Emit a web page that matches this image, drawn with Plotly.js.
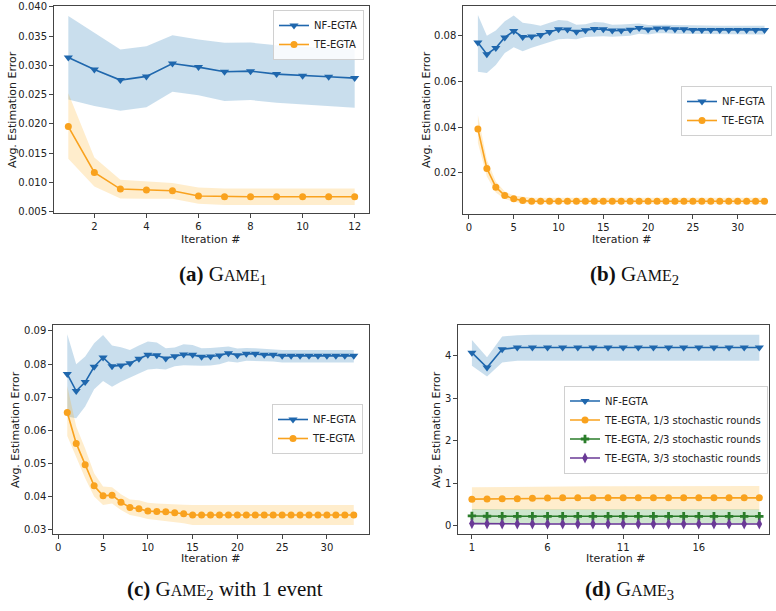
<!DOCTYPE html>
<html>
<head>
<meta charset="utf-8">
<script src="https://cdn.plot.ly/plotly-3.0.1.min.js"></script>
<style>html,body{margin:0;padding:0;background:#fff;}#chart{width:776px;height:611px;}</style>
</head>
<body>
<div id="chart"></div>
<script>
// ---------- DATA ----------
// Panel (a) GAME1
const xA = [1,2,3,4,5,6,7,8,9,10,11,12];
const nfA      = [0.03136,0.02932,0.02750,0.02813,0.03034,0.02972,0.02892,0.02903,0.02852,0.02824,0.02807,0.02784];
const nfA_up   = [0.03847,0.03557,0.03273,0.03330,0.03517,0.03443,0.03387,0.03392,0.03347,0.03318,0.03301,0.03273];
const nfA_lo   = [0.02420,0.02307,0.02227,0.02284,0.02551,0.02489,0.02392,0.02409,0.02364,0.02330,0.02307,0.02278];
const teA      = [0.01955,0.01170,0.00886,0.00869,0.00858,0.00767,0.00756,0.00756,0.00756,0.00756,0.00756,0.00756];
const teA_up   = [0.02523,0.01426,0.01045,0.01011,0.00989,0.00915,0.00898,0.00898,0.00898,0.00898,0.00898,0.00898];
const teA_lo   = [0.01403,0.00932,0.00727,0.00722,0.00722,0.00636,0.00614,0.00614,0.00614,0.00614,0.00614,0.00614];

// Panels (b) and (c) GAME2 : 33 iterations
const xB = [1,2,3,4,5,6,7,8,9,10,11,12,13,14,15,16,17,18,19,20,21,22,23,24,25,26,27,28,29,30,31,32,33];
const nfB    = [0.0770,0.0719,0.0746,0.0792,0.0820,0.0794,0.0796,0.0803,0.0816,0.0828,0.0827,0.0817,0.0824,0.0829,0.0828,0.0822,0.0823,0.0826,0.0833,0.0827,0.0831,0.0831,0.0828,0.0828,0.0825,0.0825,0.0825,0.0825,0.0825,0.0825,0.0825,0.0825,0.0825];
const nfB_up = [0.0890,0.0800,0.0823,0.0863,0.0888,0.0856,0.0851,0.0843,0.0856,0.0868,0.0865,0.0848,0.0850,0.0860,0.0858,0.0848,0.0849,0.0851,0.0853,0.0847,0.0849,0.0848,0.0846,0.0845,0.0843,0.0843,0.0843,0.0843,0.0843,0.0843,0.0843,0.0843,0.0843];
const nfB_lo = [0.0642,0.0637,0.0672,0.0724,0.0749,0.0732,0.0747,0.0760,0.0772,0.0784,0.0786,0.0784,0.0794,0.0797,0.0797,0.0795,0.0796,0.0800,0.0808,0.0805,0.0810,0.0810,0.0808,0.0808,0.0805,0.0805,0.0805,0.0805,0.0805,0.0805,0.0805,0.0805,0.0805];
const teB    = [0.0391,0.0219,0.0137,0.0100,0.0086,0.0078,0.0075,0.0075,0.0075,0.0075,0.0075,0.0075,0.0075,0.0075,0.0075,0.0075,0.0075,0.0075,0.0075,0.0075,0.0075,0.0075,0.0075,0.0075,0.0075,0.0075,0.0075,0.0075,0.0075,0.0075,0.0075,0.0075,0.0075];
const teB_up = [0.0453,0.0257,0.0162,0.0118,0.0100,0.0094,0.0091,0.0091,0.0091,0.0091,0.0091,0.0091,0.0091,0.0091,0.0091,0.0091,0.0091,0.0091,0.0091,0.0091,0.0091,0.0091,0.0091,0.0091,0.0091,0.0091,0.0091,0.0091,0.0091,0.0091,0.0091,0.0091,0.0091];
const teB_lo = [0.0330,0.0184,0.0114,0.0085,0.0073,0.0065,0.0062,0.0062,0.0062,0.0062,0.0062,0.0062,0.0062,0.0062,0.0062,0.0062,0.0062,0.0062,0.0062,0.0062,0.0062,0.0062,0.0062,0.0062,0.0062,0.0062,0.0062,0.0062,0.0062,0.0062,0.0062,0.0062,0.0062];

// Panel (c) GAME2 with 1 event (TE-EGTA)
const teC    = [0.0654,0.0561,0.0497,0.0433,0.0403,0.0405,0.0384,0.0368,0.0364,0.0357,0.0356,0.0355,0.0352,0.0349,0.0345,0.0345,0.0345,0.0345,0.0345,0.0345,0.0345,0.0345,0.0345,0.0345,0.0345,0.0345,0.0345,0.0345,0.0345,0.0345,0.0345,0.0345,0.0345];
const teC_up = [0.0734,0.0612,0.0546,0.0471,0.0431,0.0429,0.0408,0.0392,0.0390,0.0382,0.0380,0.0378,0.0377,0.0376,0.0375,0.0375,0.0375,0.0375,0.0375,0.0375,0.0375,0.0375,0.0375,0.0375,0.0375,0.0375,0.0375,0.0375,0.0375,0.0375,0.0375,0.0375,0.0375];
const teC_lo = [0.0583,0.0521,0.0456,0.0401,0.0375,0.0380,0.0360,0.0345,0.0340,0.0333,0.0330,0.0327,0.0323,0.0320,0.0315,0.0315,0.0315,0.0315,0.0315,0.0315,0.0315,0.0315,0.0315,0.0315,0.0315,0.0315,0.0315,0.0315,0.0315,0.0315,0.0315,0.0315,0.0315];

// Panel (d) GAME3 : 20 iterations
const xD = [1,2,3,4,5,6,7,8,9,10,11,12,13,14,15,16,17,18,19,20];
const nfD    = [4.07,3.72,4.15,4.19,4.19,4.19,4.19,4.19,4.19,4.19,4.19,4.19,4.19,4.19,4.19,4.19,4.19,4.19,4.19,4.19];
const nfD_up = [4.37,3.96,4.45,4.48,4.49,4.49,4.49,4.49,4.49,4.49,4.49,4.49,4.49,4.49,4.49,4.49,4.49,4.49,4.49,4.49];
const nfD_lo = [3.76,3.51,3.84,3.88,3.88,3.88,3.88,3.88,3.88,3.88,3.88,3.88,3.88,3.88,3.88,3.88,3.88,3.88,3.88,3.88];
const t1D    = [0.63,0.635,0.64,0.64,0.65,0.655,0.66,0.66,0.66,0.66,0.66,0.66,0.66,0.66,0.66,0.66,0.66,0.66,0.66,0.66];
const t1D_up = [0.91,0.915,0.92,0.92,0.925,0.93,0.93,0.93,0.935,0.935,0.935,0.935,0.935,0.935,0.94,0.94,0.94,0.94,0.94,0.94];
const t1D_lo = [0.38,0.38,0.38,0.38,0.38,0.38,0.38,0.38,0.38,0.38,0.38,0.38,0.38,0.38,0.38,0.38,0.38,0.38,0.38,0.38];
const t2D    = [0.235,0.228,0.227,0.227,0.227,0.227,0.227,0.227,0.227,0.227,0.227,0.227,0.227,0.227,0.227,0.227,0.227,0.227,0.227,0.227];
const t2D_up = [0.40,0.39,0.39,0.39,0.39,0.39,0.39,0.39,0.39,0.39,0.39,0.39,0.39,0.39,0.39,0.39,0.39,0.39,0.39,0.39];
const t2D_lo = [0.07,0.065,0.065,0.065,0.065,0.065,0.065,0.065,0.065,0.065,0.065,0.065,0.065,0.065,0.065,0.065,0.065,0.065,0.065,0.065];
const t3D    = [0.055,0.05,0.048,0.047,0.047,0.047,0.047,0.047,0.047,0.047,0.047,0.047,0.047,0.047,0.047,0.047,0.047,0.047,0.047,0.047];
const t3D_up = [0.075,0.07,0.068,0.067,0.067,0.067,0.067,0.067,0.067,0.067,0.067,0.067,0.067,0.067,0.067,0.067,0.067,0.067,0.067,0.067];
const t3D_lo = [0.035,0.03,0.028,0.027,0.027,0.027,0.027,0.027,0.027,0.027,0.027,0.027,0.027,0.027,0.027,0.027,0.027,0.027,0.027,0.027];

// Labels
const seriesNames = ["NF-EGTA", "TE-EGTA"];
const seriesNamesD = ["NF-EGTA", "TE-EGTA, 1/3 stochastic rounds", "TE-EGTA, 2/3 stochastic rounds", "TE-EGTA, 3/3 stochastic rounds"];
const xTicksA = [2,4,6,8,10,12];
const yTicksA = [0.005,0.010,0.015,0.020,0.025,0.030,0.035,0.040];
const yTickTextA = ["0.005","0.010","0.015","0.020","0.025","0.030","0.035","0.040"];
const xTicksB = [0,5,10,15,20,25,30];
const yTicksB = [0.02,0.04,0.06,0.08];
const yTickTextB = ["0.02","0.04","0.06","0.08"];
const yTicksC = [0.03,0.04,0.05,0.06,0.07,0.08,0.09];
const yTickTextC = ["0.03","0.04","0.05","0.06","0.07","0.08","0.09"];
const xTicksD = [1,6,11,16];
const yTicksD = [0,1,2,3,4];
const captions = [
  '<b>(a)</b> G<span style="font-size:16px">AME</span><sub>1</sub>',
  '<b>(b)</b> G<span style="font-size:16px">AME</span><sub>2</sub>',
  '<b>(c)</b> G<span style="font-size:16px">AME</span><sub>2</sub> with 1 event',
  '<b>(d)</b> G<span style="font-size:16px">AME</span><sub>3</sub>'
];
const yTitle = "Avg. Estimation Error";
const xTitle = "Iteration #";

// ---------- STYLE ----------
const BLUE = '#1f67ad', BLUE_F = 'rgba(31,119,180,0.24)';
const ORANGE = '#f9a21e', ORANGE_F = 'rgba(255,165,0,0.2)';
const GREEN = '#2a7d2a', GREEN_F = 'rgba(34,139,34,0.22)';
const PURPLE = '#6a3a96', PURPLE_F = 'rgba(106,58,150,0.2)';

const traces = [];
function band(x, up, lo, color, xa, ya) {
  traces.push({
    x: x.concat(x.slice().reverse()),
    y: up.concat(lo.slice().reverse()),
    fill: 'toself', fillcolor: color, mode: 'lines', line: {width: 0, color: 'rgba(0,0,0,0)'},
    showlegend: false, hoverinfo: 'skip', xaxis: xa, yaxis: ya
  });
}
function line(x, y, name, color, sym, size, xa, ya, leg) {
  traces.push({
    x: x, y: y, name: name, mode: 'lines+markers',
    line: {color: color, width: 1.6},
    marker: {symbol: sym, size: size, color: color},
    xaxis: xa, yaxis: ya, legend: leg
  });
}

// (a)
band(xA, nfA_up, nfA_lo, BLUE_F, 'x', 'y');
band(xA, teA_up, teA_lo, ORANGE_F, 'x', 'y');
line(xA, nfA, seriesNames[0], BLUE, 'triangle-down', 8, 'x', 'y', 'legend');
line(xA, teA, seriesNames[1], ORANGE, 'circle', 7, 'x', 'y', 'legend');
// (b)
band(xB, nfB_up, nfB_lo, BLUE_F, 'x2', 'y2');
band(xB, teB_up, teB_lo, ORANGE_F, 'x2', 'y2');
line(xB, nfB, seriesNames[0], BLUE, 'triangle-down', 8, 'x2', 'y2', 'legend2');
line(xB, teB, seriesNames[1], ORANGE, 'circle', 7, 'x2', 'y2', 'legend2');
// (c)
band(xB, nfB_up, nfB_lo, BLUE_F, 'x3', 'y3');
band(xB, teC_up, teC_lo, ORANGE_F, 'x3', 'y3');
line(xB, nfB, seriesNames[0], BLUE, 'triangle-down', 8, 'x3', 'y3', 'legend3');
line(xB, teC, seriesNames[1], ORANGE, 'circle', 7, 'x3', 'y3', 'legend3');
// (d)
band(xD, nfD_up, nfD_lo, BLUE_F, 'x4', 'y4');
band(xD, t1D_up, t1D_lo, ORANGE_F, 'x4', 'y4');
band(xD, t2D_up, t2D_lo, GREEN_F, 'x4', 'y4');
band(xD, t3D_up, t3D_lo, PURPLE_F, 'x4', 'y4');
line(xD, nfD, seriesNamesD[0], BLUE, 'triangle-down', 8, 'x4', 'y4', 'legend4');
line(xD, t1D, seriesNamesD[1], ORANGE, 'circle', 7, 'x4', 'y4', 'legend4');
line(xD, t2D, seriesNamesD[2], GREEN, 'cross', 7, 'x4', 'y4', 'legend4');
line(xD, t3D, seriesNamesD[3], PURPLE, 'diamond-tall', 8, 'x4', 'y4', 'legend4');

const W = 776, H = 611;
const px = v => v / W, py = v => 1 - v / H;
const axBase = {
  showline: true, mirror: true, linecolor: '#444', linewidth: 1,
  ticks: 'outside', ticklen: 4, tickcolor: '#444', tickwidth: 1,
  showgrid: false, zeroline: false, tickfont: {family: 'DejaVu Sans', size: 10, color: '#222'}
};
function ax(extra) { return Object.assign({}, axBase, extra); }
const legBase = {
  bgcolor: 'rgba(255,255,255,0.85)', bordercolor: '#d0d0d0', borderwidth: 1,
  font: {family: 'DejaVu Sans', size: 10, color: '#222'}, itemwidth: 30,
  tracegroupgap: 0
};
function leg(extra) { return Object.assign({}, legBase, extra); }

const annFont = {family: 'DejaVu Sans', size: 11, color: '#222'};
const annotations = [];
function addAnn(text, x, y, angle, font) {
  annotations.push({text: text, x: px(x), y: py(y), xref: 'paper', yref: 'paper',
    xanchor: 'center', yanchor: 'middle', showarrow: false, textangle: angle || 0, font: font || annFont});
}
addAnn(yTitle, 12, 110, -90); addAnn(xTitle, 211, 239);
addAnn(yTitle, 426, 110, -90); addAnn(xTitle, 621, 239);
addAnn(yTitle, 15, 430, -90); addAnn(xTitle, 211, 558);
addAnn(yTitle, 436, 430, -90); addAnn(xTitle, 615, 558);
const capFont = {family: 'Liberation Serif', size: 21, color: '#111'};
addAnn(captions[0], 223, 275, 0, capFont);
addAnn(captions[1], 634, 275, 0, capFont);
addAnn(captions[2], 225, 590, 0, capFont);
addAnn(captions[3], 629, 590, 0, capFont);

const layout = {
  width: W, height: H, margin: {l: 0, r: 0, t: 0, b: 0},
  paper_bgcolor: '#fff', plot_bgcolor: '#fff', showlegend: true,
  xaxis:  ax({domain: [px(54), px(369)], range: [0.45, 12.55], tickvals: xTicksA, anchor: 'y'}),
  yaxis:  ax({domain: [py(213), py(6)], range: [0.00477, 0.04017], tickvals: yTicksA, ticktext: yTickTextA, anchor: 'x'}),
  xaxis2: ax({domain: [px(463.3), 1], range: [-0.63, 34.28], tickvals: xTicksB, anchor: 'y2'}),
  yaxis2: ax({domain: [py(214), py(5.7)], range: [0.00194, 0.0931], tickvals: yTicksB, ticktext: yTickTextB, anchor: 'x2'}),
  xaxis3: ax({domain: [px(53.3), px(369)], range: [-0.56, 34.7], tickvals: xTicksB, anchor: 'y3'}),
  yaxis3: ax({domain: [py(534.3), py(325)], range: [0.0287, 0.0918], tickvals: yTicksC, ticktext: yTickTextC, anchor: 'x3'}),
  xaxis4: ax({domain: [px(458.3), px(769)], range: [0.1, 20.64], tickvals: xTicksD, anchor: 'y4'}),
  yaxis4: ax({domain: [py(534.3), py(325)], range: [-0.196, 4.72], tickvals: yTicksD, anchor: 'x4'}),
  legend:  leg({x: px(364), y: py(10), xanchor: 'right', yanchor: 'top'}),
  legend2: leg({x: px(772), y: py(111), xanchor: 'right', yanchor: 'middle'}),
  legend3: leg({x: px(363), y: py(429), xanchor: 'right', yanchor: 'middle'}),
  legend4: leg({x: px(768), y: py(429.5), xanchor: 'right', yanchor: 'middle'}),
  annotations: annotations
};

Plotly.newPlot('chart', traces, layout, {staticPlot: true, displayModeBar: false});
</script>
</body>
</html>
